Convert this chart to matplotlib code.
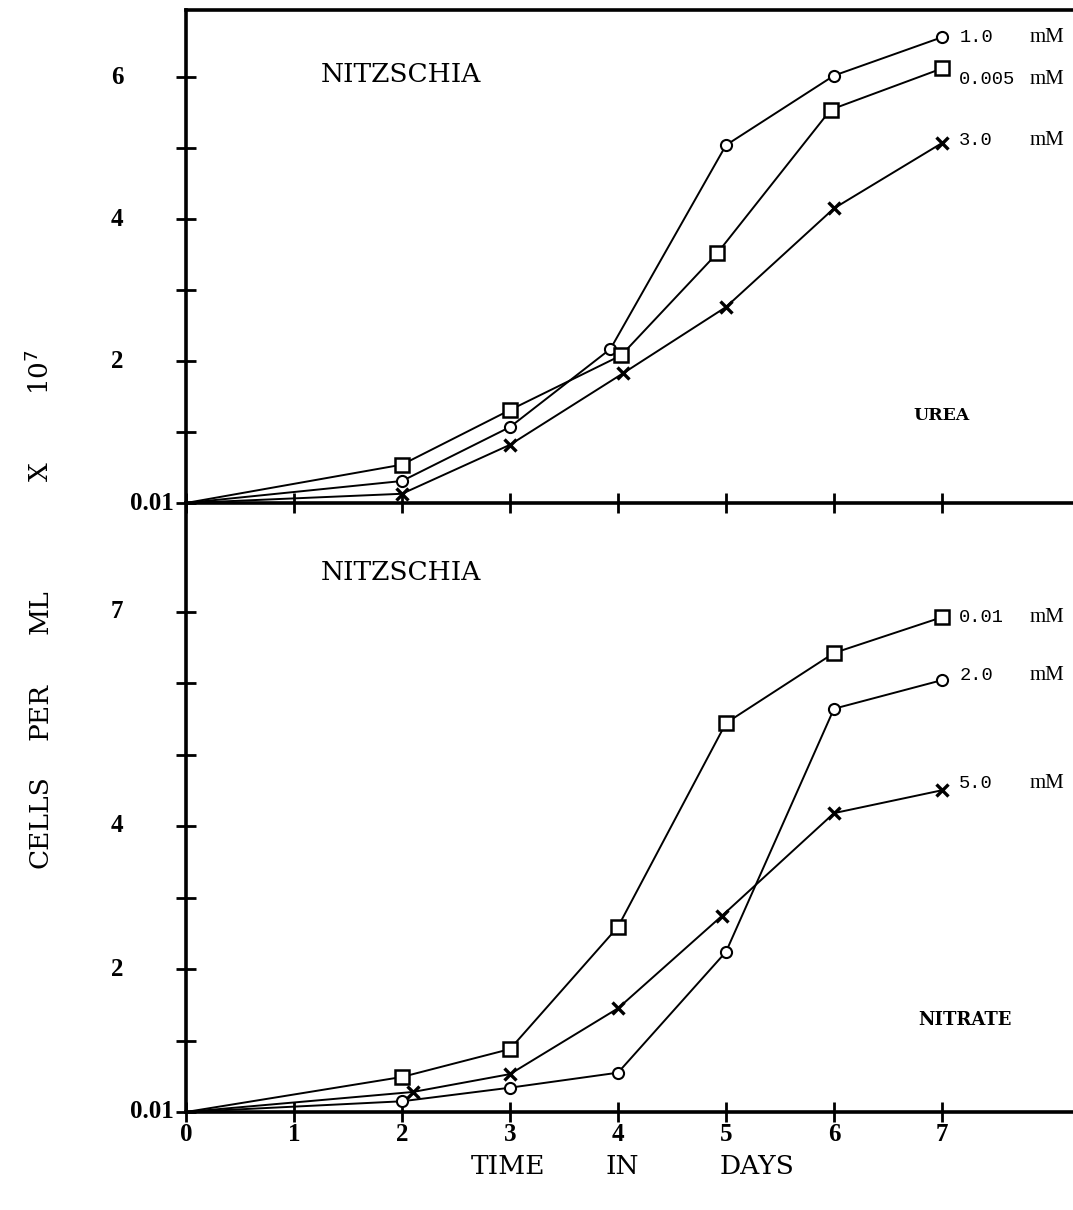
import matplotlib
matplotlib.use("Agg")
import matplotlib.pyplot as plt
from matplotlib.transforms import blended_transform_factory

# ---- data ----
days_urea_1 = [0, 2, 3, 3.93, 5, 6, 7]
urea_1 = [0, 0.31, 1.07, 2.17, 5.04, 6.02, 6.56]
days_urea_0005 = [0, 2, 3, 4.03, 4.92, 5.97, 7]
urea_0005 = [0, 0.54, 1.31, 2.08, 3.52, 5.54, 6.12]
days_urea_3 = [0, 2, 3, 4.05, 5, 6, 7]
urea_3 = [0, 0.13, 0.82, 1.83, 2.76, 4.15, 5.07]

days_nit_001 = [0, 2, 3, 4, 5, 6, 7]
nit_001 = [0, 0.49, 0.88, 2.59, 5.44, 6.42, 6.92]
days_nit_2 = [0, 2, 3, 4, 5, 6, 7]
nit_2 = [0, 0.15, 0.34, 0.55, 2.24, 5.64, 6.04]
days_nit_5 = [0, 2.1, 3, 4, 4.96, 6, 7]
nit_5 = [0, 0.28, 0.53, 1.45, 2.74, 4.18, 4.50]

x_ticks = [0, 1, 2, 3, 4, 5, 6, 7]
x_labels = ["0", "1", "2", "3", "4", "5", "6", "7"]
top_yticks = [0, 1, 2, 3, 4, 5, 6]
top_ylabels = {0: "0.01", 2: "2", 4: "4", 6: "6"}
bot_yticks = [0, 1, 2, 3, 4, 5, 6, 7]
bot_ylabels = {0: "0.01", 2: "2", 4: "4", 7: "7"}

urea_labels = [("1.0", 6.55), ("0.005", 5.96), ("3.0", 5.10)]
nit_labels = [("0.01", 6.91), ("2.0", 6.10), ("5.0", 4.60)]

NUMFONT = "Liberation Serif"
WORDFONT = "DejaVu Serif"
W, H = 1073, 1210
fig = plt.figure(figsize=(W / 100, H / 100), dpi=100)

left = 186 / W
ax1 = fig.add_axes([left, 1 - 503 / H, 1 - left, (503 - 10) / H])
ax2 = fig.add_axes([left, 1 - 1112 / H, 1 - left, (1112 - 503) / H])

xmax = (W - 186) / 108.0
ax1.set_xlim(0, xmax)
ax2.set_xlim(0, xmax)
ax1.set_ylim(0, (503 - 10) / 71.0)
ax2.set_ylim(0, (1112 - 503) / 71.5)

line_kw = dict(color="black", lw=1.4)
circ = dict(marker="o", ms=8, mfc="white", mec="black", mew=1.5)
sq = dict(marker="s", ms=10, mfc="white", mec="black", mew=1.8)
cross = dict(marker="x", ms=8, mec="black", mew=2.4)

ax1.plot(days_urea_1, urea_1, **circ, **line_kw)
ax1.plot(days_urea_0005, urea_0005, **sq, **line_kw)
ax1.plot(days_urea_3, urea_3, **cross, **line_kw)

ax2.plot(days_nit_001, nit_001, **sq, **line_kw)
ax2.plot(days_nit_2, nit_2, **circ, **line_kw)
ax2.plot(days_nit_5, nit_5, **cross, **line_kw)

# no marker at the origin
for ln in ax1.lines + ax2.lines:
    ln.set_markevery(list(range(1, len(ln.get_xdata()))))

for ax in (ax1, ax2):
    ax.set_facecolor("none")
    ax.spines["right"].set_visible(False)
    for s in ("left", "bottom", "top"):
        ax.spines[s].set_linewidth(2.6)
    ax.set_xticks(x_ticks)
    ax.tick_params(axis="both", direction="inout", length=14, width=2.0, color="black")
ax2.spines["top"].set_visible(False)
ax1.set_xticklabels([])
ax1.set_yticks(top_yticks)
ax2.set_yticks(bot_yticks)
ax1.set_yticklabels([])
ax2.set_yticklabels([])
ax2.set_xticklabels(x_labels, fontfamily=NUMFONT, fontsize=18, fontweight="bold")
ax2.tick_params(axis="x", pad=1)

# y tick labels placed manually (different alignments as in original)
for ax, labs in ((ax1, top_ylabels), (ax2, bot_ylabels)):
    tr = blended_transform_factory(ax.transAxes, ax.transData)
    axw = W * ax.get_position().width
    for v, s in labs.items():
        if s == "0.01":
            ax.text(-12 / axw, v, s, transform=tr, ha="right", va="center",
                    fontfamily=NUMFONT, fontsize=18, fontweight="bold")
        else:
            ax.text(-69 / axw, v, s, transform=tr, ha="center", va="center",
                    fontfamily=NUMFONT, fontsize=18, fontweight="bold")

# panel titles
ax1.text(1.99, 6.03, "NITZSCHIA", fontfamily=WORDFONT, fontsize=19, ha="center", va="center")
ax2.text(1.99, 7.54, "NITZSCHIA", fontfamily=WORDFONT, fontsize=19, ha="center", va="center")
ax1.text(7.0, 1.23, "UREA", fontfamily=WORDFONT, fontsize=12.5, ha="center", va="center", fontweight="bold")
ax2.text(7.21, 1.29, "NITRATE", fontfamily=WORDFONT, fontsize=13, ha="center", va="center", fontweight="bold")

# series labels
for ax, labs in ((ax1, urea_labels), (ax2, nit_labels)):
    for s, y in labs:
        ax.text(7.16, y, s, fontfamily="Liberation Mono", fontsize=13.5, ha="left", va="center")
        ax.text((1030 - 186) / 108.0, y, "mM", fontfamily=NUMFONT, fontsize=15, ha="left",
                va="center")

# axis labels (spaced words)
for word, ypix in (("CELLS", 822), ("PER", 712), ("ML", 612), ("X", 472)):
    fig.text(40 / W, 1 - ypix / H, word, rotation=90, ha="center", va="center",
             fontfamily=WORDFONT, fontsize=19)
fig.text(40 / W, 1 - 372 / H, r"10$^{7}$", rotation=90, ha="center", va="center",
         fontfamily=WORDFONT, fontsize=19)
for word, xpix in (("TIME", 508), ("IN", 622), ("DAYS", 757)):
    fig.text(xpix / W, 1 - 1166 / H, word, ha="center", va="center",
             fontfamily=WORDFONT, fontsize=19)

fig.savefig("out.png", dpi=100, facecolor="white")
